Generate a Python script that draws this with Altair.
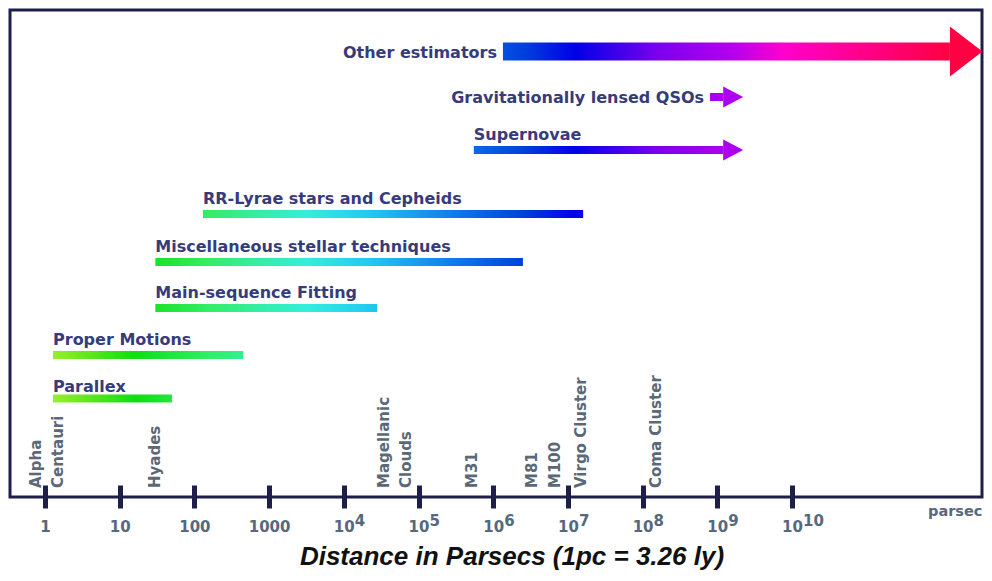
import math
import altair as alt
import pandas as pd

# ---------------- data ----------------
methods = [
    "Other estimators",
    "Gravitationally lensed QSOs",
    "Supernovae",
    "RR-Lyrae stars and Cepheids",
    "Miscellaneous stellar techniques",
    "Main-sequence Fitting",
    "Proper Motions",
    "Parallex",
]
dist_lo = [1.35e6, 8.0e8, 5.5e5, 130, 30, 30, 1.28, 1.28]
dist_hi = [1.3e12, 1.2e9, 1.2e9, 1.6e7, 2.5e6, 2.8e4, 450, 50]
arrow_kind = ["big", "small", "small", "none", "none", "none", "none", "none"]
label_place = ["left", "left", "above", "above", "above", "above", "above", "above_close"]

objects = ["Alpha\nCentauri", "Hyades", "Magellanic\nClouds", "M31", "M81", "M100",
           "Virgo Cluster", "Coma Cluster"]
object_dist = [1.05, 30, 4.9e4, 5.2e5, 3.3e6, 6.7e6, 1.5e7, 1.5e8]

tick_values = [1, 10, 100, 1000, 1e4, 1e5, 1e6, 1e7, 1e8, 1e9, 1e10]
exp_values = [1e4, 1e5, 1e6, 1e7, 1e8, 1e9, 1e10]
exp_labels = ["4", "5", "6", "7", "8", "9", "10"]

title_text = "Distance in Parsecs (1pc = 3.26 ly)"
unit_text = "parsec"

# ---------------- style ----------------
FONT = "DejaVu Sans"
W, H = 972, 487
X_RANGE = [35, 782]
ROW_Y = [37, 87, 140, 204, 252, 298, 345, 393]
FRAME = "#1e1e4a"
LABEL_COL = "#363b7c"
OBJ_COL = "#5a6878"
TICK_LAB_COL = "#56687e"

# colour along the distance axis (log10 distance -> colour)
COLOR_STOPS = [
    (0.0, "#a6f030"), (1.2, "#11dd11"), (2.2, "#33ee66"), (3.5, "#33eedd"),
    (4.3, "#22ccee"), (5.5, "#1177ee"), (6.4, "#0040dd"), (7.1, "#0000e6"),
    (8.2, "#7a00ee"), (9.2, "#b400ee"), (9.9, "#ff00cc"), (12.4, "#ff0030"),
]
BAR_SIZE = {"big": 18, "small": 8, "none": 8}
ARROW = {"big": ("M0,-1L1.3,0L0,1Z", 2500), "small": ("M0,-1L1.9,0L0,1Z", 441)}
LABEL_DY = {"above": -15, "above_close": -12}


def hex2rgb(h):
    return [int(h[i:i + 2], 16) for i in (1, 3, 5)]


def color_at(v):
    if v <= COLOR_STOPS[0][0]:
        return COLOR_STOPS[0][1]
    for (a, ca), (b, cb) in zip(COLOR_STOPS[:-1], COLOR_STOPS[1:]):
        if a <= v <= b:
            t = (v - a) / (b - a)
            ra, rb = hex2rgb(ca), hex2rgb(cb)
            return "#" + "".join(f"{round(x + (y - x) * t):02x}" for x, y in zip(ra, rb))
    return COLOR_STOPS[-1][1]


def gradient_for(lo, hi):
    a, b = math.log10(lo), math.log10(hi)
    pts = [a] + [s for s, _ in COLOR_STOPS if a < s < b] + [b]
    stops = [alt.GradientStop(color=color_at(p), offset=(p - a) / (b - a)) for p in pts]
    return alt.LinearGradient(gradient="linear", stops=stops, x1=0, x2=1, y1=0, y2=0)


df = pd.DataFrame({
    "method": methods, "lo": dist_lo, "hi": dist_hi, "row": list(range(len(methods))),
    "arrow": arrow_kind, "place": label_place,
})
df_obj = pd.DataFrame({"name": objects, "dist": object_dist,
                       "lines": [n.count("\n") + 1 for n in objects]})
df_ticks = pd.DataFrame({"v": tick_values})
df_exp = pd.DataFrame({"v": exp_values, "e": exp_labels})

xscale = alt.Scale(type="log", domain=[1, 1e10], range=X_RANGE, nice=False)
yscale = alt.Scale(domain=list(range(len(methods))), range=ROW_Y, nice=False, zero=False)
xaxis = alt.Axis(
    values=tick_values, domain=False, grid=False, ticks=True, tickSize=23, tickWidth=5,
    tickColor=FRAME, offset=-12, labelExpr="datum.value >= 10000 ? '10' : format(datum.value, 'd')",
    labelFont=FONT, labelFontSize=15, labelFontWeight="bold", labelColor=TICK_LAB_COL,
    labelPadding=11, labelFlush=False, labelOverlap=False, title=None,
)

base = alt.Chart(df)
layers = []

# axis carrier layer (invisible)
layers.append(
    alt.Chart(df_ticks).mark_point(opacity=0).encode(
        x=alt.X("v:Q", scale=xscale, axis=xaxis),
        y=alt.value(470),
    )
)

# gradient bars
for m, lo, hi, kind in zip(methods, dist_lo, dist_hi, arrow_kind):
    layers.append(
        base.transform_filter(alt.datum.method == m).mark_bar(
            color=gradient_for(lo, hi), size=BAR_SIZE[kind], orient="horizontal"
        ).encode(
            x=alt.X("lo:Q", scale=xscale, axis=xaxis),
            x2="hi:Q",
            y=alt.Y("row:Q", scale=yscale, axis=None),
        )
    )

# arrow heads
for m, hi, kind in zip(methods, dist_hi, arrow_kind):
    if kind == "none":
        continue
    shape, size = ARROW[kind]
    layers.append(
        base.transform_filter(alt.datum.method == m).mark_point(
            shape=shape, size=size, filled=True, opacity=1, strokeWidth=0,
            fill=color_at(math.log10(hi)),
        ).encode(
            x=alt.X("hi:Q", scale=xscale, axis=xaxis),
            y=alt.Y("row:Q", scale=yscale, axis=None),
        )
    )

# method labels
lab_kw = dict(font=FONT, fontSize=16, fontWeight="bold", color=LABEL_COL, baseline="middle")
for place, dy in LABEL_DY.items():
    layers.append(
        base.transform_filter(alt.datum.place == place).mark_text(align="left", dy=dy, **lab_kw).encode(
            x=alt.X("lo:Q", scale=xscale, axis=xaxis),
            y=alt.Y("row:Q", scale=yscale, axis=None),
            text="method:N",
        )
    )
layers.append(
    base.transform_filter(alt.datum.place == "left").mark_text(align="right", dx=-6, dy=1, **lab_kw).encode(
        x=alt.X("lo:Q", scale=xscale, axis=xaxis),
        y=alt.Y("row:Q", scale=yscale, axis=None),
        text="method:N",
    )
)

# object labels (vertical); two-line labels are centred on their distance
for nlines, shift in [(1, 0), (2, -11)]:
    layers.append(
        alt.Chart(df_obj).transform_filter(alt.datum.lines == nlines).mark_text(
            angle=270, align="left", baseline="middle", lineBreak="\n", lineHeight=22, dy=shift,
            font=FONT, fontSize=15, fontWeight="bold", color=OBJ_COL,
        ).encode(
            x=alt.X("dist:Q", scale=xscale, axis=xaxis),
            y=alt.value(478),
            text="name:N",
        )
    )

# exponents
layers.append(
    alt.Chart(df_exp).mark_text(
        align="left", baseline="middle", dx=11, font=FONT, fontSize=15, fontWeight="bold",
        color=TICK_LAB_COL,
    ).encode(
        x=alt.X("v:Q", scale=xscale, axis=xaxis),
        y=alt.value(511),
        text="e:N",
    )
)

# unit and title
layers.append(
    alt.Chart(pd.DataFrame({"t": [unit_text]})).mark_text(
        align="left", baseline="middle", font=FONT, fontSize=14.5, fontWeight="bold", color=TICK_LAB_COL,
    ).encode(x=alt.value(918), y=alt.value(502), text="t:N")
)
layers.append(
    alt.Chart(pd.DataFrame({"t": [title_text]})).mark_text(
        align="center", baseline="middle", font="Liberation Sans", fontSize=26, fontWeight="bold",
        fontStyle="italic", color="#111111",
    ).encode(x=alt.value(502), y=alt.value(547), text="t:N")
)

chart = alt.layer(*layers).properties(
    width=W, height=H,
    autosize=alt.AutoSizeParams(type="none"),
    padding={"left": 2, "top": 2, "right": 2, "bottom": 76},
    background="white",
).configure_view(stroke=FRAME, strokeWidth=3)

chart.save("out.html", embed_options={"renderer": "svg", "actions": False})
